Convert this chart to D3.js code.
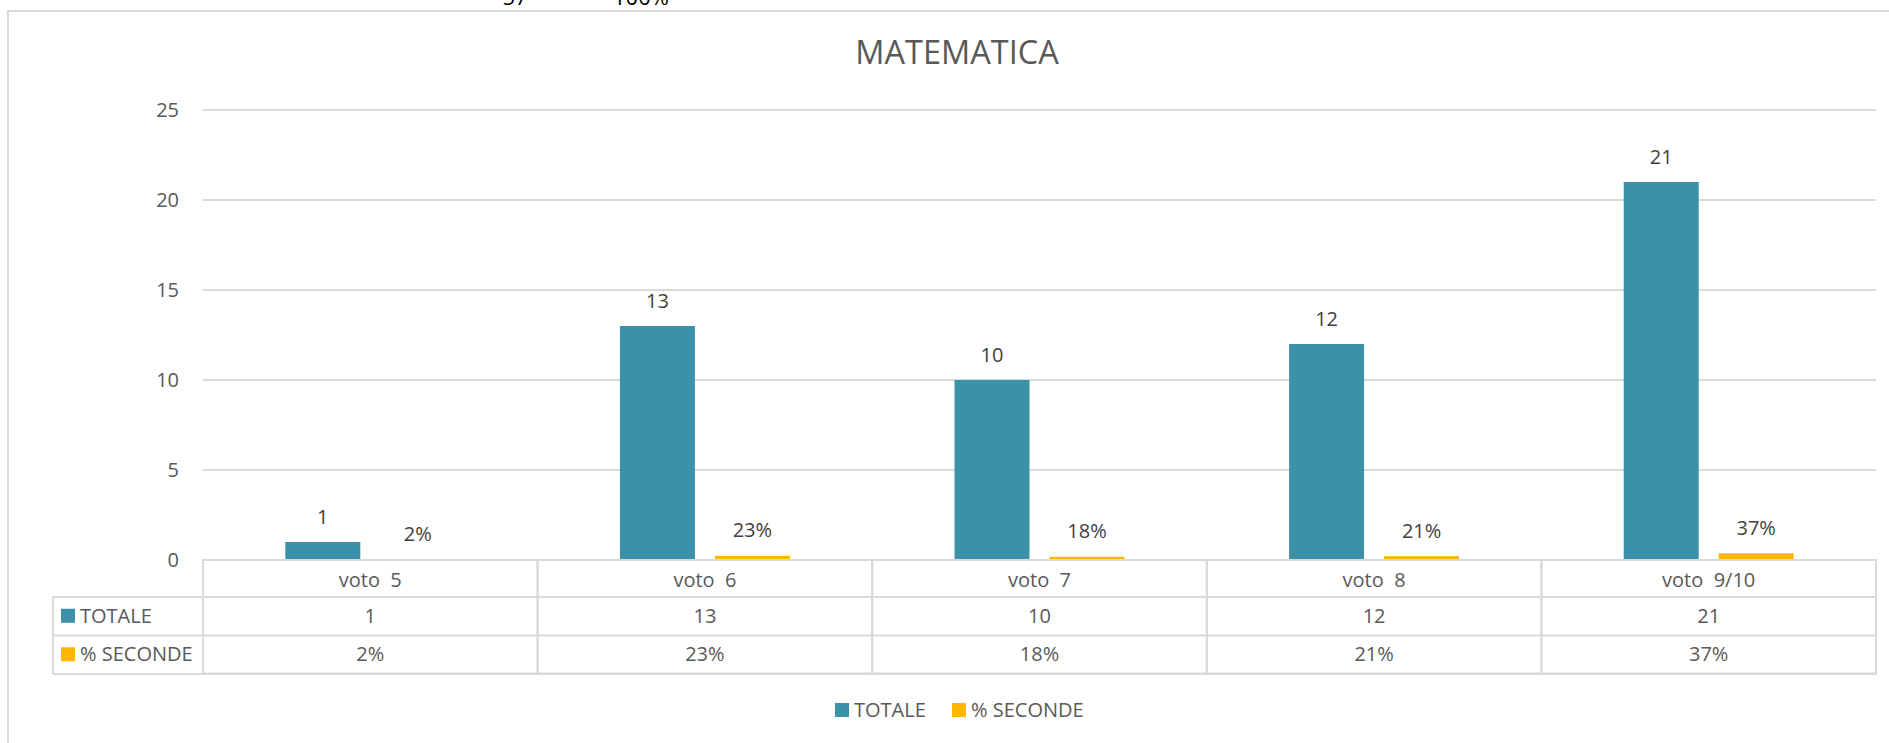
<!DOCTYPE html>
<html>
<head>
<meta charset="utf-8">
<script src="https://cdn.jsdelivr.net/npm/d3@7"></script>
<style>
  body { margin: 0; background: white; }
  text { font-family: "Open Sans", "Noto Sans", sans-serif; }
</style>
</head>
<body>
<div id="Canvas1"></div>
<script>
let categories = ["voto  5", "voto  6", "voto  7", "voto  8", "voto  9/10"]
let seriesNames = ["TOTALE", "% SECONDE"]
let totale = [1, 13, 10, 12, 21]
let seconde = [0.02, 0.23, 0.18, 0.21, 0.37]
let yTicks = [0, 5, 10, 15, 20, 25]
// celle del foglio tagliate sopra il grafico
let cellTexts = ["57", "100%"]

let W = 1889
let H = 743
let colors = ["#3a91a8", "#ffb600"]
let pct = d3.format(".0%")

let svg = d3.select("#Canvas1")
    .append("svg")
    .attr("width", W)
    .attr("height", H)
    .style("display", "block")

svg.append("g")
    .selectAll("text")
    .data(cellTexts)
    .join("text")
    .attr("x", (d, i) => [515, 641][i])
    .attr("y", 5)
    .attr("text-anchor", "middle")
    .style("font-size", "22px")
    .attr("fill", "#000")
    .text(d => d)

// bordo dell'area grafico
svg.append("rect")
    .attr("x", 8).attr("y", 11)
    .attr("width", W).attr("height", H)
    .attr("fill", "white")
    .attr("stroke", "#d9d9d9")
    .attr("stroke-width", 2)

svg.append("text")
    .attr("x", 957)
    .attr("y", 64)
    .attr("text-anchor", "middle")
    .style("font-size", "32.5px")
    .attr("fill", "#595959")
    .text("MATEMATICA")

let plotLeft = 203, plotRight = 1876, plotTop = 110, plotBase = 560

let x0 = d3.scaleBand()
    .domain(categories)
    .range([plotLeft, plotRight])
    .paddingInner(0.492)
    .paddingOuter(0.246)

let x1 = d3.scaleBand()
    .domain(seriesNames)
    .range([0, x0.bandwidth()])
    .paddingInner(0.2105)

let y = d3.scaleLinear()
    .domain([0, 25])
    .range([plotBase, plotTop])

// griglia
svg.append("g")
    .selectAll("line")
    .data(yTicks.filter(d => d > 0))
    .join("line")
    .attr("x1", plotLeft).attr("x2", plotRight)
    .attr("y1", d => y(d)).attr("y2", d => y(d))
    .attr("stroke", "#d9d9d9")
    .attr("stroke-width", 2)

let yAxis = svg.append("g")
    .attr("transform", `translate(${plotLeft - 24},0)`)
    .call(d3.axisLeft(y).tickValues(yTicks).tickSize(0).tickPadding(0))
yAxis.select(".domain").remove()
yAxis.selectAll("text")
    .style("font-size", "20px")
    .style("font-family", "'Open Sans', sans-serif")
    .attr("fill", "#595959")

let series = [totale, seconde]
let barData = []
categories.forEach((c, i) => {
    seriesNames.forEach((s, j) => {
        barData.push({ cat: c, name: s, value: series[j][i], idx: j })
    })
})

let bars = svg.append("g")
bars.selectAll("rect")
    .data(barData)
    .join("rect")
    .attr("x", d => x0(d.cat) + x1(d.name))
    .attr("y", d => y(d.value))
    .attr("width", x1.bandwidth())
    .attr("height", d => plotBase - y(d.value))
    .attr("fill", d => colors[d.idx])

bars.selectAll("text")
    .data(barData)
    .join("text")
    .attr("x", d => x0(d.cat) + x1(d.name) + x1.bandwidth() / 2)
    .attr("y", d => y(d.value) - 18.5)
    .attr("text-anchor", "middle")
    .style("font-size", "20px")
    .attr("fill", "#404040")
    .text(d => d.idx === 0 ? d.value : pct(d.value))

// tabella dati sotto l'asse
let rowTop = [560, 597, 635.5]
let rowH = 37.5
let legendLeft = 53
let table = svg.append("g")
let step = x0.step()

table.append("g")
    .selectAll("rect")
    .data(categories)
    .join("rect")
    .attr("x", d => x0(d) - x0.paddingOuter() * step)
    .attr("y", rowTop[0])
    .attr("width", step)
    .attr("height", 3 * rowH + 1)
    .attr("fill", "none")
    .attr("stroke", "#d9d9d9")
    .attr("stroke-width", 2)

table.append("g")
    .selectAll("line")
    .data(rowTop.slice(1).concat([rowTop[2] + rowH + 1]))
    .join("line")
    .attr("x1", legendLeft).attr("x2", plotRight)
    .attr("y1", d => d).attr("y2", d => d)
    .attr("stroke", "#d9d9d9")
    .attr("stroke-width", 2)

table.append("line")
    .attr("x1", legendLeft).attr("x2", legendLeft)
    .attr("y1", rowTop[1]).attr("y2", rowTop[2] + rowH + 1)
    .attr("stroke", "#d9d9d9")
    .attr("stroke-width", 2)

table.append("g")
    .selectAll("text")
    .data(categories)
    .join("text")
    .attr("x", d => x0(d) + x0.bandwidth() / 2)
    .attr("y", rowTop[0] + rowH / 2 + 8)
    .attr("text-anchor", "middle")
    .style("font-size", "20px")
    .style("white-space", "pre")
    .attr("fill", "#595959")
    .text(d => d)

series.forEach((vals, j) => {
    let cy = rowTop[j + 1] + rowH / 2
    table.append("rect")
        .attr("x", 61).attr("y", cy - 7)
        .attr("width", 14).attr("height", 14)
        .attr("fill", colors[j])
    table.append("text")
        .attr("x", 80).attr("y", cy + 7)
        .style("font-size", "20px")
        .attr("fill", "#595959")
        .text(seriesNames[j])
    table.append("g")
        .selectAll("text")
        .data(vals)
        .join("text")
        .attr("x", (d, i) => x0(categories[i]) + x0.bandwidth() / 2)
        .attr("y", cy + 7)
        .attr("text-anchor", "middle")
        .style("font-size", "20px")
        .attr("fill", "#595959")
        .text(d => j === 0 ? d : pct(d))
})

// legenda in basso
let legend = svg.append("g").attr("transform", "translate(835,703)")
let legendX = [0, 117]
seriesNames.forEach((s, j) => {
    legend.append("rect")
        .attr("x", legendX[j]).attr("y", 0)
        .attr("width", 14).attr("height", 14)
        .attr("fill", colors[j])
    legend.append("text")
        .attr("x", legendX[j] + 19).attr("y", 14)
        .style("font-size", "20px")
        .attr("fill", "#595959")
        .text(s)
})
</script>
</body>
</html>
